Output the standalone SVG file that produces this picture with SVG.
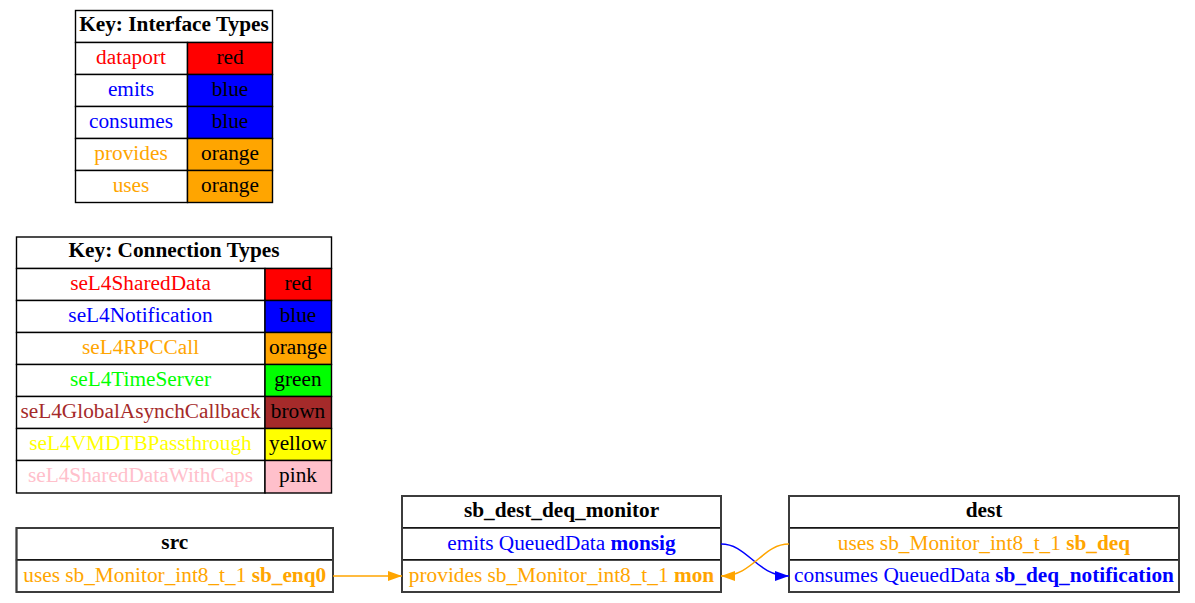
<svg xmlns="http://www.w3.org/2000/svg" width="1195" height="603" viewBox="0 0 1195 603">
<style>
text{font-family:"Liberation Serif","Times New Roman",serif;font-size:21.3px;text-anchor:middle}
.b{font-weight:bold}
.cell{stroke:#000;stroke-width:1.4}
.outer{fill:none;stroke:#3c3c3c;stroke-width:2}
.red{fill:#ff0000}.blue{fill:#0000ff}.orange{fill:#ffa500}.green{fill:#00ff00}.brown{fill:#a52a2a}.yellow{fill:#ffff00}.pink{fill:#ffc0cb}.white{fill:#ffffff}
.k{fill:#000}
.edge{fill:none;stroke-width:1.5}
</style>
<defs>
<marker id="ao" markerUnits="userSpaceOnUse" markerWidth="14" markerHeight="10" refX="14" refY="5" orient="auto"><path d="M0,0 L14,5 L0,10 z" fill="#ffa500"/></marker>
<marker id="ab" markerUnits="userSpaceOnUse" markerWidth="14" markerHeight="10" refX="14" refY="5" orient="auto"><path d="M0,0 L14,5 L0,10 z" fill="#0000ff"/></marker>
</defs>
<rect width="1195" height="603" fill="#fff"/>

<g id="key_interface">
<rect class="cell white" x="75.5" y="10.5" width="197" height="32"/>
<text class="b k" x="174" y="31">Key: Interface Types</text>
<rect class="cell white" x="75.5" y="42.5" width="112" height="32"/>
<rect class="cell red" x="187.5" y="42.5" width="85" height="32"/>
<text class="red" x="131" y="64">dataport</text><text class="k" x="230" y="64">red</text>
<rect class="cell white" x="75.5" y="74.5" width="112" height="32"/>
<rect class="cell blue" x="187.5" y="74.5" width="85" height="32"/>
<text class="blue" x="131" y="96">emits</text><text class="k" x="230" y="96">blue</text>
<rect class="cell white" x="75.5" y="106.5" width="112" height="32"/>
<rect class="cell blue" x="187.5" y="106.5" width="85" height="32"/>
<text class="blue" x="131" y="128">consumes</text><text class="k" x="230" y="128">blue</text>
<rect class="cell white" x="75.5" y="138.5" width="112" height="32"/>
<rect class="cell orange" x="187.5" y="138.5" width="85" height="32"/>
<text class="orange" x="131" y="160">provides</text><text class="k" x="230" y="160">orange</text>
<rect class="cell white" x="75.5" y="170.5" width="112" height="32"/>
<rect class="cell orange" x="187.5" y="170.5" width="85" height="32"/>
<text class="orange" x="131" y="192">uses</text><text class="k" x="230" y="192">orange</text>
</g>

<g id="key_connection">
<rect class="cell white" x="16.5" y="237" width="315" height="31.5"/>
<text class="b k" x="174" y="257">Key: Connection Types</text>
<rect class="cell white" x="16.5" y="268.5" width="248.5" height="32"/>
<rect class="cell red" x="265" y="268.5" width="66.5" height="32"/>
<text class="red" x="140.5" y="290">seL4SharedData</text><text class="k" x="298" y="290">red</text>
<rect class="cell white" x="16.5" y="300.5" width="248.5" height="32"/>
<rect class="cell blue" x="265" y="300.5" width="66.5" height="32"/>
<text class="blue" x="140.5" y="322">seL4Notification</text><text class="k" x="298" y="322">blue</text>
<rect class="cell white" x="16.5" y="332.5" width="248.5" height="32"/>
<rect class="cell orange" x="265" y="332.5" width="66.5" height="32"/>
<text class="orange" x="140.5" y="354">seL4RPCCall</text><text class="k" x="298" y="354">orange</text>
<rect class="cell white" x="16.5" y="364.5" width="248.5" height="32"/>
<rect class="cell green" x="265" y="364.5" width="66.5" height="32"/>
<text class="green" x="140.5" y="386">seL4TimeServer</text><text class="k" x="298" y="386">green</text>
<rect class="cell white" x="16.5" y="396.5" width="248.5" height="32"/>
<rect class="cell brown" x="265" y="396.5" width="66.5" height="32"/>
<text class="brown" x="140.5" y="418">seL4GlobalAsynchCallback</text><text class="k" x="298" y="418">brown</text>
<rect class="cell white" x="16.5" y="428.5" width="248.5" height="32"/>
<rect class="cell yellow" x="265" y="428.5" width="66.5" height="32"/>
<text class="yellow" x="140.5" y="450">seL4VMDTBPassthrough</text><text class="k" x="298" y="450">yellow</text>
<rect class="cell white" x="16.5" y="460.5" width="248.5" height="32.5"/>
<rect class="cell pink" x="265" y="460.5" width="66.5" height="32.5"/>
<text class="pink" x="140.5" y="482">seL4SharedDataWithCaps</text><text class="k" x="298" y="482">pink</text>
</g>

<g id="src">
<rect class="cell white" x="16.5" y="528" width="316.5" height="32"/>
<rect class="cell white" x="16.5" y="560" width="316.5" height="32"/>
<rect class="outer" x="16.5" y="528" width="316.5" height="64"/>
<text class="b k" x="174.75" y="549">src</text>
<text class="orange" x="174.75" y="582">uses sb_Monitor_int8_t_1 <tspan class="b">sb_enq0</tspan></text>
</g>

<g id="sb_dest_deq_monitor">
<rect class="cell white" x="402" y="496" width="319" height="32"/>
<rect class="cell white" x="402" y="528" width="319" height="32"/>
<rect class="cell white" x="402" y="560" width="319" height="32"/>
<rect class="outer" x="402" y="496" width="319" height="96"/>
<text class="b k" x="561.5" y="517">sb_dest_deq_monitor</text>
<text class="blue" x="561.5" y="550">emits QueuedData <tspan class="b">monsig</tspan></text>
<text class="orange" x="561.5" y="582">provides sb_Monitor_int8_t_1 <tspan class="b">mon</tspan></text>
</g>

<g id="dest">
<rect class="cell white" x="789" y="496" width="390" height="32"/>
<rect class="cell white" x="789" y="528" width="390" height="32"/>
<rect class="cell white" x="789" y="560" width="390" height="32"/>
<rect class="outer" x="789" y="496" width="390" height="96"/>
<text class="b k" x="984" y="517">dest</text>
<text class="orange" x="984" y="550">uses sb_Monitor_int8_t_1 <tspan class="b">sb_deq</tspan></text>
<text class="blue" x="984" y="582">consumes QueuedData <tspan class="b">sb_deq_notification</tspan></text>
</g>

<g id="connectors">
<path class="edge" stroke="#ffa500" d="M333,576 L402,576" marker-end="url(#ao)"/>
<path class="edge" stroke="#0000ff" d="M721,544 C748,544 756,576 789,576" marker-end="url(#ab)"/>
<path class="edge" stroke="#ffa500" d="M789,544 C762,544 754,576 721,576" marker-end="url(#ao)"/>
</g>
</svg>
